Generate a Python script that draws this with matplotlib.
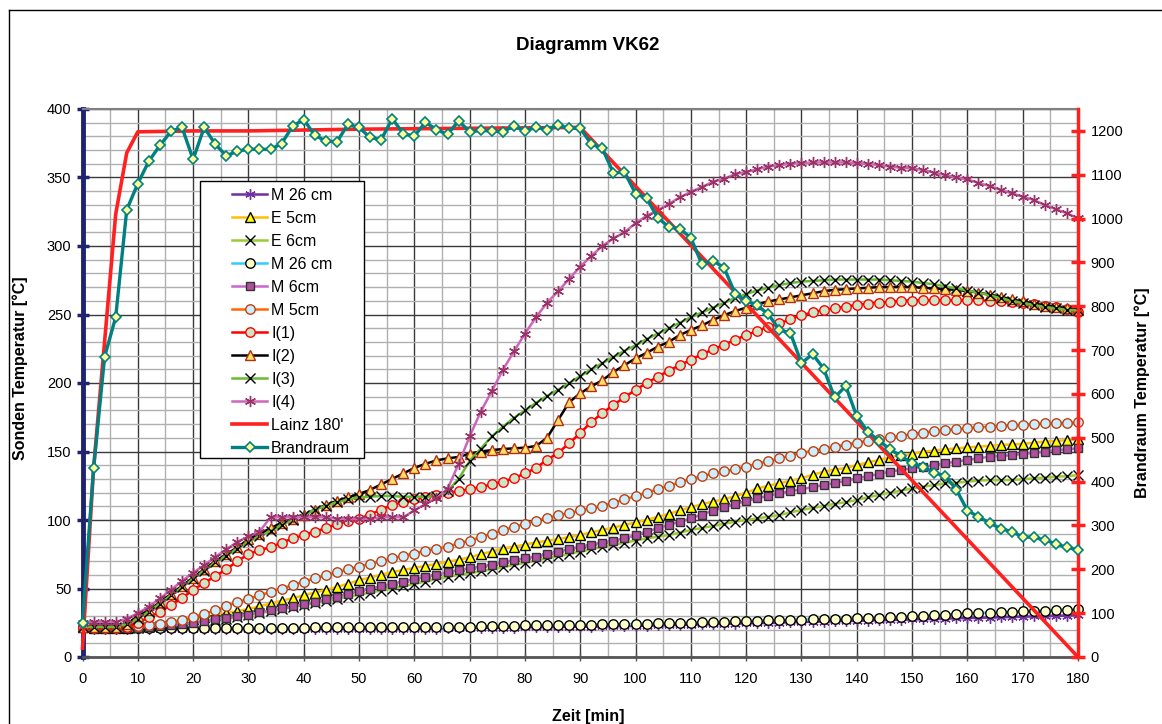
import numpy as np
import matplotlib
matplotlib.use('Agg')
import matplotlib.pyplot as plt
from matplotlib.lines import Line2D
from matplotlib.patches import Rectangle

plt.rcParams['font.family'] = ['Liberation Sans', 'DejaVu Sans']

# time axis [min], one reading every 2 minutes
zeit = np.arange(0, 181, 2)

# probe temperatures (left axis) [°C]
m26_stern = [22, 20.5, 20.5, 20.6, 20.5, 20.5, 20.4, 20.5, 20.5, 20.6,
             20.5, 20.5, 20.4, 20.5, 20.5, 20.6, 20.5, 20.5, 20.5, 20.6,
             20.5, 20.5, 20.4, 20.5, 20.6, 20.5, 20.5, 20.5, 20.6, 20.5,
             20.6, 20.7, 20.8, 20.9, 21, 21.1, 21.2, 21.3, 21.4, 21.5,
             21.6, 21.7, 21.8, 21.9, 22, 22.1, 22.2, 22.3, 22.4, 22.5,
             22.6, 22.8, 23, 23.2, 23.4, 23.6, 23.8, 24, 24.2, 24.4,
             24.5, 24.7, 24.9, 25.1, 25.3, 25.5, 25.7, 25.9, 26.1, 26.2,
             26.4, 26.6, 26.8, 27, 27.2, 27.4, 27.6, 27.8, 28, 28.2,
             28.4, 28.6, 28.8, 29, 29.2, 29.4, 29.6, 29.8, 30, 30.2,
             30.5]
e5 = [22, 21.5, 21.5, 21.5, 21.5, 22, 22.5, 23.5, 24.5, 26,
      27.5, 29, 30.5, 32, 33.5, 35, 37, 39, 41, 43,
      45, 47, 49, 51, 53.5, 56, 58, 60, 62, 63.5,
      65, 66.5, 68, 69.5, 71, 72.8, 75, 77, 79, 80.5,
      82, 83.7, 84.8, 86, 87.5, 89, 91, 92.7, 94.5, 96.4,
      98.2, 100, 102.2, 104.4, 107, 109.3, 111.5, 113.4, 115.3, 117.2,
      120, 123, 125, 126.8, 128.6, 130.4, 133, 135.3, 136.8, 138,
      140, 142, 143.8, 145.8, 147.4, 148.2, 149.9, 150.6, 151.6, 152.3,
      153, 153.5, 154.2, 154.7, 155.2, 155.5, 156.4, 157.2, 157.7, 158.4,
      158.9]
e6 = [22, 21, 21, 21, 21, 21.5, 22, 22.5, 23, 24,
      25, 26, 27, 28, 29.5, 30.5, 32, 33.5, 35, 36.5,
      38, 39.5, 41, 42.5, 44, 45.5, 47, 48.5, 50, 51.5,
      53.5, 55, 57, 58.3, 60, 61.1, 62.5, 64, 65.5, 67.2,
      68.8, 70.3, 72, 73.7, 75.3, 76.9, 78.7, 80.5, 82, 83.4,
      85, 86.6, 87.8, 89, 90.8, 92.7, 94.2, 95.6, 97.2, 98.8,
      100, 101.2, 102.4, 103.6, 105.5, 107.3, 108.8, 110.2, 111.8, 113,
      114.6, 116.6, 118.2, 120, 121.4, 123.1, 124.3, 125.5, 126.8, 127.2,
      128, 128.7, 129.2, 129, 129.2, 129.7, 130.4, 131, 131.6, 132,
      132.8]
m26_kreis = [22, 21.5, 21.5, 21.5, 21.5, 21.5, 21.5, 21.5, 21.5, 21.5,
             21.5, 21.5, 21.5, 21.5, 21.5, 21.5, 21.5, 21.5, 21.5, 21.5,
             21.5, 21.8, 21.8, 21.8, 21.8, 21.8, 21.8, 21.8, 21.8, 21.8,
             21.8, 22, 22, 22, 22, 22.2, 22.3, 22.5, 22.6, 22.8,
             23, 23.1, 23.3, 23.4, 23.5, 23.6, 23.7, 23.8, 23.9, 24,
             24.1, 24.3, 24.5, 24.7, 24.9, 25, 25.3, 25.5, 25.8, 26,
             26.3, 26.5, 26.7, 26.9, 27.1, 27.3, 27.5, 27.7, 27.9, 28,
             28.2, 28.5, 28.8, 29.1, 29.4, 29.8, 30.2, 30.6, 31, 31.5,
             31.9, 32.1, 32.4, 32.7, 33, 33.3, 33.6, 33.9, 34.2, 34.5,
             34.8]
m6 = [22, 21, 21, 21, 21, 21.5, 22, 22.5, 23, 24,
      25, 26, 27.5, 28.5, 30, 31, 32.5, 34, 35.5, 37,
      38.5, 40, 42, 44, 46, 48, 50, 51.5, 53.5, 55,
      57, 58.5, 60, 62, 63.5, 64.7, 66, 67.2, 69, 70.8,
      72, 73.2, 75, 76.9, 78.7, 80.5, 82, 83.4, 85, 86.6,
      89, 91.5, 94, 96.4, 98.8, 101.2, 104, 106.8, 109.3, 111.7,
      113.8, 115.8, 117.7, 119.5, 121, 122.4, 124, 125.5, 127, 128.5,
      130.4, 132, 133.6, 135.3, 136.5, 137.7, 138.9, 140, 141.4, 142.6,
      143.8, 145, 146.2, 146.7, 147.4, 148.2, 149.1, 149.9, 151, 151.6,
      152.3]
m5 = [22, 21.5, 21.5, 21.5, 22, 22.5, 23, 24, 25.5, 27,
      29, 31.5, 34, 37, 40, 42.5, 45, 47.5, 50, 52.5,
      55, 57.5, 59.5, 62, 64, 66, 68, 70, 72, 74,
      75.5, 77.5, 79, 80.5, 83, 85, 87.4, 90, 92.5, 95,
      97, 99.5, 101.5, 103.5, 105, 107, 108.5, 110.5, 112.5, 115,
      117.5, 120, 122.5, 125, 127.5, 130, 132, 134, 135.5, 137,
      139, 141, 143, 145, 147, 149, 150.5, 152, 153.5, 155,
      156.4, 157.9, 158.9, 160.3, 161.3, 162.8, 163.8, 164.8, 165.7, 166.2,
      166.9, 167.6, 168.1, 168.6, 169.1, 169.4, 170, 170.5, 170.7, 171,
      171.2]
i1 = [22, 22, 22, 22, 22, 25, 29, 33, 38, 43,
      49, 54, 59, 64, 70, 75, 78, 80, 83.5, 86.5,
      89, 91.5, 94, 97, 99, 101, 104, 107.5, 111, 113,
      115, 117, 118.5, 120, 121, 122.5, 124, 126, 128, 130.5,
      134, 138, 144, 149, 156, 163.5, 171.5, 178, 184, 189.5,
      195, 200, 204.5, 209, 213, 217, 221, 224.5, 228, 231.5,
      235, 238, 241, 243.5, 246.5, 249.5, 251.5, 253.3, 254.5, 255.7,
      257, 258, 258.7, 259.3, 260, 260.2, 260.4, 260.5, 260.5, 260.5,
      260.5, 260.4, 260, 259.7, 259.2, 258.6, 257.8, 256.5, 255.5, 254,
      252]
i2 = [22, 22, 22, 22, 24, 30, 34, 40, 46, 52,
      58, 64, 70, 75, 80, 86, 90, 94, 98, 101,
      104, 107.5, 111, 114, 116.5, 119, 122, 126, 130, 134,
      138, 141, 143.5, 145, 146, 148.5, 150, 151, 151.8, 152.3,
      152.8, 154, 160, 173, 186, 192.5, 197.5, 202, 208, 213,
      218, 222, 226.5, 230, 235, 238.7, 242, 246, 249.5, 252.5,
      255, 257.5, 259.5, 261, 262.5, 264, 265.5, 267, 268, 268.5,
      269, 269.5, 270, 270, 270, 270, 269.5, 269, 268.5, 268,
      267, 266, 264.5, 263, 261, 259.5, 258, 256.5, 255.5, 254.5,
      253.5]
i3 = [22, 22, 22, 22, 24, 28, 33, 39, 45, 51,
      57, 63, 69, 74, 79, 84, 88, 92, 96.5, 100,
      104, 107.5, 110.5, 113, 115, 116.5, 117, 117.5, 117.5, 117,
      117, 117, 117.5, 121, 130, 143, 152, 161, 168, 174.5,
      180, 185.5, 190.5, 195, 200, 205, 210, 214.5, 219, 223.5,
      227.5, 232, 236, 240, 244, 248, 251.5, 255, 258.5, 262,
      265, 267.5, 269.5, 271.5, 273, 274, 274.5, 275, 275.5, 275.5,
      275.5, 275.5, 275.5, 275, 274.5, 274, 273, 272, 270.5, 269,
      267.5, 266, 264, 262, 260, 258.5, 257, 255.5, 254.5, 253.5,
      253]
i4 = [25, 25.5, 25.5, 25.5, 28, 32, 36.7, 42.8, 49, 55.5,
      61.5, 67, 73, 78.6, 84, 88, 91.5, 102, 102, 102,
      102, 102, 102, 101, 101, 101, 101, 102, 102, 102,
      107, 111.7, 115.8, 122.6, 141, 161, 179, 194, 209.5, 223,
      236, 248, 258.6, 267, 276, 285, 292.7, 300, 305.6, 310,
      316.6, 322, 326, 330.7, 335.5, 339.6, 343, 347, 349, 352.5,
      354, 356, 358, 359, 360, 360.5, 361, 361, 361, 361,
      360.5, 360, 359, 358, 357, 356.7, 355.5, 353.5, 351.8, 350,
      348.7, 346, 343.8, 341, 338.5, 336, 333.6, 330, 326.8, 323.9,
      320.2]

# fire room (right axis) [°C]
lainz_zeit = [0, 2, 4, 6, 8, 10, 20, 30, 40, 50, 60, 70, 80, 90, 180]
lainz = [20, 430, 720, 1010, 1150, 1198, 1200, 1200, 1202, 1204, 1205, 1206, 1207, 1208, 0]
brandraum = [78, 430, 685, 775, 1020, 1080, 1131, 1167, 1199, 1208,
             1135, 1208, 1170, 1143, 1154, 1158, 1158, 1158, 1171, 1211,
             1226, 1190, 1177, 1175, 1215, 1208, 1185, 1180, 1228, 1194,
             1188, 1220, 1203, 1192, 1223, 1198, 1201, 1200, 1198, 1211,
             1200, 1208, 1203, 1213, 1206, 1206, 1170, 1160, 1104, 1106,
             1057, 1046, 1002, 981, 977, 956, 896, 904, 888, 829,
             812, 802, 782, 746, 739, 670, 691, 658, 592, 618,
             549, 514, 493, 474, 458, 442, 434, 420, 413, 382,
             334, 320, 306, 293, 286, 274, 273, 267, 258, 250,
             244]

W, H = 1162, 724
fig = plt.figure(figsize=(W / 100, H / 100), dpi=100)
ax = fig.add_axes([82.5 / W, 1 - 657 / H, (1078 - 82.5) / W, 548 / H])
ax2 = ax.twinx()

ast = (6, 2, 0)
serien = [
    (m26_stern, 'M 26 cm', '#7030A0', ast, '#7030A0', '#7030A0', 7.5),
    (e5, 'E 5cm', '#FFC000', '^', '#FFFF00', '#000000', 7),
    (e6, 'E 6cm', '#99CC33', 'x', 'none', '#000000', 7),
    (m26_kreis, 'M 26 cm', '#33CCFF', 'o', '#FFFFCC', '#000000', 6.8),
    (m6, 'M 6cm', '#CC66CC', 's', '#B04FA0', '#333333', 6.3),
    (m5, 'M 5cm', '#FF6600', 'o', '#CCEEFF', '#C04010', 6.8),
    (i1, 'I(1)', '#FF0000', 'o', '#CCE5C5', '#FF0000', 6.8),
    (i2, 'I(2)', '#000000', '^', '#FFDD66', '#B03010', 7),
    (i3, 'I(3)', '#66BB33', 'x', 'none', '#000000', 7),
    (i4, 'I(4)', '#CC66BB', ast, '#993366', '#993366', 8),
]
for werte, name, lc, mk, mf, me, ms in serien:
    ax.plot(zeit, werte, color=lc, lw=1.8, marker=mk, markersize=ms,
            markerfacecolor=mf, markeredgecolor=me, markeredgewidth=1.0,
            label=name, clip_on=False, zorder=3)

ax2.plot(lainz_zeit, lainz, color='#FF2020', lw=2.6, label="Lainz 180'",
         clip_on=False, zorder=3)
ax2.plot(zeit, brandraum, color='#008080', lw=2.4, marker='D', markersize=5.5,
         markerfacecolor='#FFFF99', markeredgecolor='#008080',
         markeredgewidth=1.2, label='Brandraum', clip_on=False, zorder=4)

ax.set_xlim(0, 180)
ax.set_ylim(0, 400)
ax2.set_ylim(0, 1250)

ax.set_xticks(np.arange(0, 181, 10))
ax.set_xticks(np.arange(5, 180, 10), minor=True)
ax.set_yticks(np.arange(0, 401, 50))
ax.set_yticks(np.arange(10, 400, 10), minor=True)
ax2.set_yticks(np.arange(0, 1201, 100))

ax.grid(which='major', color='#3a3a3a', lw=1.0)
ax.grid(which='minor', color='#b0b0b0', lw=1.0)
ax.set_axisbelow(True)

ax.tick_params(axis='y', which='major', direction='inout', length=8, width=2.5,
               color='#1F2370', labelsize=10.5, pad=4)
ax.tick_params(axis='y', which='minor', length=0)
ax.tick_params(axis='x', which='major', direction='inout', length=6, width=1,
               color='#555555', labelsize=10.5, pad=8)
ax.tick_params(axis='x', which='minor', length=0)
ax2.tick_params(axis='y', direction='inout', length=10, width=2.5,
                color='#FF2020', labelsize=10.5, pad=4)

ax.spines['right'].set_visible(False)
ax.spines['left'].set_color('#1F2370')
ax.spines['left'].set_linewidth(3.5)
ax.spines['bottom'].set_color('#555555')
ax.spines['bottom'].set_linewidth(2)
ax.spines['top'].set_color('#808080')
ax.spines['top'].set_linewidth(1.5)
for s in ['left', 'top', 'bottom']:
    ax2.spines[s].set_visible(False)
ax2.spines['right'].set_color('#FF2020')
ax2.spines['right'].set_linewidth(2.5)

# legend box drawn by hand (Excel style), entries placed inside
def px2ax(x, y):
    return (x - 82.5) / 995.5, (657 - y) / 548

bx0, by0 = px2ax(200, 458)
bx1, by1 = px2ax(364, 181)
ax2.add_patch(Rectangle((bx0, by0), bx1 - bx0, by1 - by0, transform=ax2.transAxes,
                        facecolor='white', edgecolor='black', lw=1.0,
                        zorder=9, clip_on=False))

h1, l1 = ax.get_legend_handles_labels()
h2, l2 = ax2.get_legend_handles_labels()
leg = ax2.legend(h1 + h2, l1 + l2, loc='upper left',
                 bbox_to_anchor=px2ax(232, 188),
                 fontsize=11.5, frameon=False, borderpad=0, labelspacing=0.5,
                 handlelength=2.2, handletextpad=0.25, borderaxespad=0,
                 numpoints=1)
leg.set_zorder(10)

fig.text(588 / W, 1 - 46 / H, 'Diagramm VK62', ha='center', va='center',
         fontsize=13.5, fontweight='bold')
fig.text(20 / W, 1 - 368 / H, 'Sonden Temperatur [°C]', ha='center',
         va='center', rotation=90, fontsize=11.5, fontweight='bold')
fig.text(1142 / W, 1 - 393 / H, 'Brandraum Temperatur [°C]', ha='center',
         va='center', rotation=90, fontsize=11.5, fontweight='bold')
fig.text(588 / W, 1 - 716 / H, 'Zeit [min]', ha='center', va='center',
         fontsize=11.5, fontweight='bold')

# outer chart border
fig.add_artist(Line2D([9 / W, 9 / W], [0, 1 - 10 / H], color='#000000', lw=1))
fig.add_artist(Line2D([9 / W, 1], [1 - 10 / H, 1 - 10 / H], color='#000000', lw=1))

fig.savefig('out.png', dpi=100)
